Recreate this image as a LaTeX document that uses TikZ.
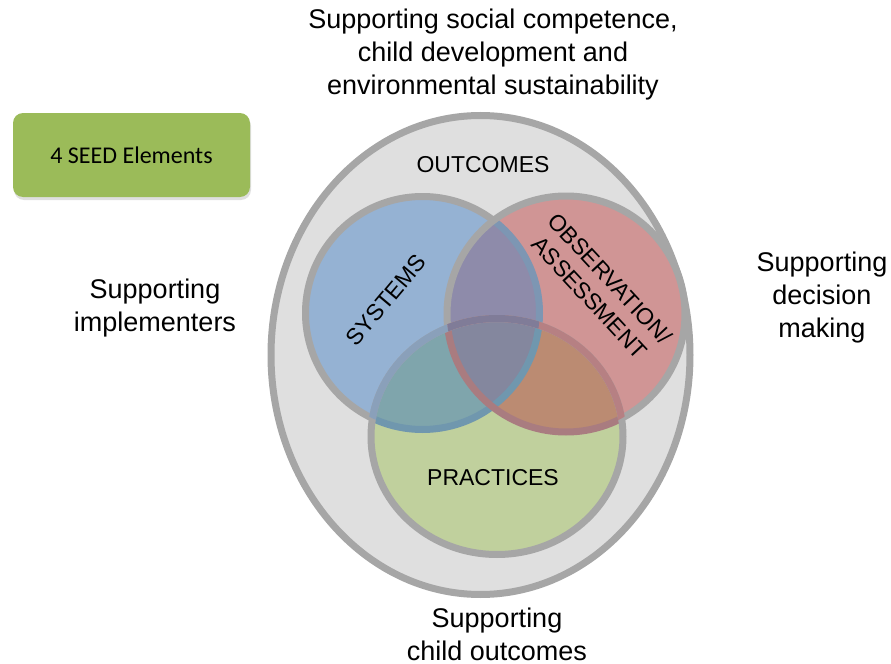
\documentclass[tikz,border=0pt]{standalone}
\usepackage{fontspec}
\setmainfont{Liberation Sans}
\newfontfamily\boxfont{Carlito}
\usetikzlibrary{shadows}

\definecolor{bggray}{HTML}{DFDFDF}
\definecolor{ringgray}{HTML}{A6A6A6}
\definecolor{sysblue}{HTML}{95B2D3}
\definecolor{obsred}{HTML}{D09595}
\definecolor{pracgreen}{HTML}{C0D09D}
\definecolor{sysobs}{HTML}{8E8BAA}
\definecolor{syspra}{HTML}{7FA5AC}
\definecolor{obspra}{HTML}{BB8B72}
\definecolor{allthree}{HTML}{84879E}
\definecolor{sysline}{HTML}{7D96B3}
\definecolor{syslinep}{HTML}{7097AE}
\definecolor{obslinep}{HTML}{A97C80}
\definecolor{praclines}{HTML}{8AA0BA}
\definecolor{praclineo}{HTML}{B68083}
\definecolor{praclineb}{HTML}{807C98}
\definecolor{elemgreen}{HTML}{9BBB59}

\begin{document}
\begin{tikzpicture}[x=0.5pt,y=-0.5pt,
  ring/.style={draw=ringgray,line width=3.5pt},
  outerlbl/.style={align=center,font=\fontsize{13.5}{16.5}\selectfont},
  innerlbl/.style={align=center,font=\fontsize{11.5}{14}\selectfont},
  elembox/.style={rounded corners=5pt,fill=elemgreen,minimum width=118.5pt,minimum height=42pt,
    font=\boxfont\fontsize{12}{14}\selectfont,
    drop shadow={opacity=0.25,shadow xshift=0.5pt,shadow yshift=-1.5pt}}]
\useasboundingbox (0,0) rectangle (891,664);
\def\syspath{(422.5,313) ellipse (117 and 116.5)}
\def\obspath{(566,314) ellipse (119 and 118)}
\def\pracpath{(497,436.5) ellipse (126 and 118)}
%outer ring
\filldraw[ring,fill=bggray] (480.5,355) ellipse (209.5 and 239.5);
%systems
\fill[sysblue] \syspath;
\draw[ring] \syspath;
%observation
\fill[obsred] \obspath;
\begin{scope}
  \clip \obspath;
  \fill[sysobs] \syspath;
  \draw[ring,draw=sysline] \syspath;
\end{scope}
\draw[ring] \obspath;
%practices
\fill[pracgreen] \pracpath;
\begin{scope}
  \clip \pracpath;
  \fill[syspra] \syspath;
  \fill[obspra] \obspath;
  \begin{scope}
    \clip \syspath;
    \fill[allthree] \obspath;
  \end{scope}
  \draw[ring,draw=syslinep] \syspath;
  \draw[ring,draw=obslinep] \obspath;
\end{scope}
\draw[ring] \pracpath;
\begin{scope}
  \clip \syspath;
  \draw[ring,draw=praclines] \pracpath;
\end{scope}
\begin{scope}
  \clip \obspath;
  \draw[ring,draw=praclineo] \pracpath;
  \clip \syspath;
  \draw[ring,draw=praclineb] \pracpath;
\end{scope}
%labels
\node[outerlbl] (goals) at (493,55) {Supporting social competence,\\child development and\\environmental sustainability};
\node[outerlbl] (implement) at (155,308) {Supporting\\implementers};
\node[outerlbl] (decision) at (822,298) {Supporting\\decision\\making};
\node[outerlbl] (childout) at (497,634) {Supporting\\child outcomes};
\node[innerlbl] (outcomes) at (483,165) {OUTCOMES};
\node[innerlbl,rotate=50] (systems) at (386,300) {SYSTEMS};
\node[innerlbl,rotate=-47] (observe) at (600,288) {OBSERVATION/\\ASSESSMENT};
\node[innerlbl] (practices) at (493,478) {PRACTICES};
\node[elembox] (elements) at (131.5,155) {4 SEED Elements};
\end{tikzpicture}
\end{document}
